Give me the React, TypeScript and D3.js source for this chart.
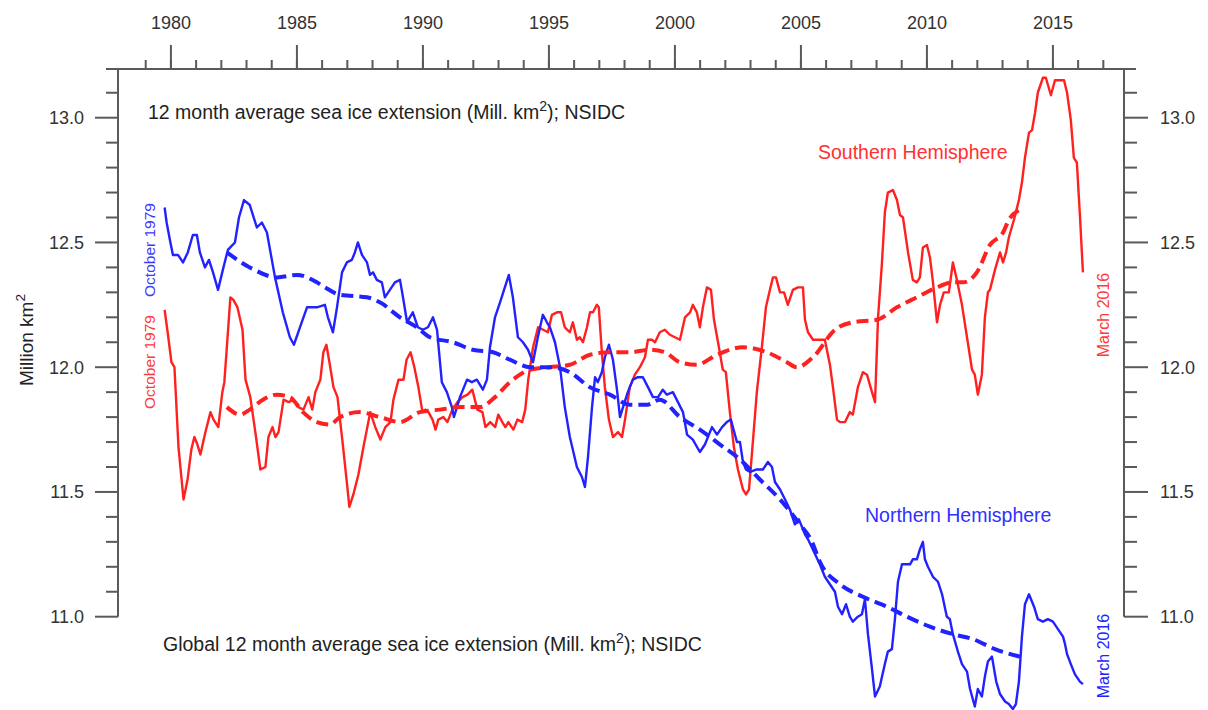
import React from 'react';
import * as d3 from 'd3';

const yearMajor = [1980, 1985, 1990, 1995, 2000, 2005, 2010, 2015];
const yearMinor = d3.range(1979, 2018);
const valueMajor = [11.0, 11.5, 12.0, 12.5, 13.0];
const valueMinor = [11.1, 11.2, 11.3, 11.4, 11.6, 11.7, 11.8, 11.9, 12.1, 12.2, 12.3, 12.4, 12.6, 12.7, 12.8, 12.9, 13.1];

// Northern Hemisphere, 12 month average (year, Mill. km2)
const nhAverage: [number, number][] = [
  [1979.75, 12.64], [1979.83, 12.58], [1979.96, 12.51], [1980.08, 12.45], [1980.28, 12.45], [1980.48, 12.42],
  [1980.67, 12.46], [1980.87, 12.53], [1981.03, 12.53], [1981.15, 12.46], [1981.35, 12.40], [1981.51, 12.43],
  [1981.67, 12.38], [1981.87, 12.31], [1982.06, 12.39], [1982.26, 12.47], [1982.54, 12.50], [1982.70, 12.60],
  [1982.90, 12.67], [1983.13, 12.65], [1983.41, 12.56], [1983.61, 12.58], [1983.81, 12.54], [1984.13, 12.36],
  [1984.44, 12.22], [1984.72, 12.12], [1984.88, 12.09], [1985.12, 12.16], [1985.40, 12.24], [1985.79, 12.24],
  [1986.11, 12.25], [1986.23, 12.20], [1986.43, 12.14], [1986.59, 12.24], [1986.79, 12.38], [1986.98, 12.42],
  [1987.18, 12.43], [1987.30, 12.46], [1987.42, 12.50], [1987.58, 12.45], [1987.78, 12.42], [1987.90, 12.37],
  [1988.02, 12.38], [1988.17, 12.35], [1988.37, 12.34], [1988.49, 12.28], [1988.69, 12.31], [1988.89, 12.34],
  [1989.09, 12.35], [1989.21, 12.28], [1989.37, 12.18], [1989.48, 12.20], [1989.60, 12.22], [1989.80, 12.16],
  [1990.00, 12.15], [1990.20, 12.16], [1990.40, 12.20], [1990.56, 12.15], [1990.75, 11.94], [1990.95, 11.90],
  [1991.15, 11.84], [1991.23, 11.80], [1991.47, 11.88], [1991.75, 11.95], [1991.94, 11.94], [1992.14, 11.95],
  [1992.38, 11.91], [1992.54, 11.95], [1992.66, 12.08], [1992.86, 12.20], [1993.06, 12.26], [1993.25, 12.32],
  [1993.41, 12.37], [1993.57, 12.28], [1993.77, 12.12], [1993.97, 12.10], [1994.17, 12.07], [1994.37, 12.02],
  [1994.56, 12.12], [1994.76, 12.21], [1994.92, 12.18], [1995.04, 12.16], [1995.24, 12.10], [1995.44, 12.00],
  [1995.63, 11.84], [1995.83, 11.72], [1996.11, 11.60], [1996.31, 11.56], [1996.43, 11.52], [1996.55, 11.64],
  [1996.71, 11.84], [1996.83, 11.96], [1996.94, 11.94], [1997.10, 11.98], [1997.22, 12.04], [1997.38, 12.09],
  [1997.54, 12.03], [1997.70, 11.91], [1997.82, 11.80], [1997.94, 11.84], [1998.13, 11.90], [1998.33, 11.95],
  [1998.53, 11.96], [1998.73, 11.96], [1998.93, 11.92], [1999.13, 11.88], [1999.33, 11.88], [1999.52, 11.91],
  [1999.68, 11.89], [1999.92, 11.90], [2000.12, 11.86], [2000.32, 11.82], [2000.48, 11.73], [2000.71, 11.71],
  [2000.99, 11.66], [2001.19, 11.69], [2001.47, 11.76], [2001.67, 11.73], [2001.87, 11.76], [2002.06, 11.78],
  [2002.22, 11.79], [2002.46, 11.70], [2002.58, 11.70], [2002.70, 11.62], [2002.82, 11.59], [2002.98, 11.58],
  [2003.25, 11.59], [2003.49, 11.59], [2003.69, 11.62], [2003.85, 11.60], [2003.97, 11.54], [2004.17, 11.51],
  [2004.37, 11.47], [2004.56, 11.43], [2004.76, 11.37], [2004.92, 11.39], [2005.04, 11.36], [2005.16, 11.33],
  [2005.28, 11.31], [2005.75, 11.21], [2005.95, 11.16], [2006.15, 11.13], [2006.35, 11.10], [2006.47, 11.04],
  [2006.63, 11.01], [2006.79, 11.05], [2006.94, 11.00], [2007.06, 10.98], [2007.26, 11.00], [2007.42, 11.01],
  [2007.54, 11.07], [2007.66, 10.93], [2007.82, 10.79], [2007.94, 10.68], [2008.13, 10.72], [2008.33, 10.81],
  [2008.45, 10.86], [2008.61, 10.87], [2008.73, 10.99], [2008.85, 11.14], [2009.01, 11.21], [2009.21, 11.21],
  [2009.33, 11.21], [2009.44, 11.23], [2009.60, 11.23], [2009.72, 11.27], [2009.84, 11.30], [2009.92, 11.23],
  [2010.04, 11.20], [2010.24, 11.16], [2010.44, 11.14], [2010.60, 11.09], [2010.79, 11.00], [2010.91, 10.99],
  [2011.03, 10.93], [2011.23, 10.86], [2011.39, 10.81], [2011.59, 10.78], [2011.71, 10.71], [2011.90, 10.64],
  [2012.02, 10.71], [2012.18, 10.68], [2012.30, 10.76], [2012.42, 10.82], [2012.58, 10.84], [2012.75, 10.74],
  [2012.90, 10.69], [2013.10, 10.66], [2013.25, 10.65], [2013.41, 10.63], [2013.53, 10.65], [2013.65, 10.74],
  [2013.77, 10.92], [2013.89, 11.05], [2014.05, 11.09], [2014.25, 11.04], [2014.40, 10.99], [2014.60, 10.98],
  [2014.80, 10.99], [2015.00, 10.98], [2015.20, 10.95], [2015.40, 10.92], [2015.48, 10.89], [2015.56, 10.85],
  [2015.71, 10.81], [2015.87, 10.77], [2016.07, 10.74], [2016.19, 10.73],
];

// Southern Hemisphere, 12 month average (year, Mill. km2)
const shAverage: [number, number][] = [
  [1979.75, 12.23], [1979.87, 12.14], [1980.02, 12.02], [1980.14, 12.00], [1980.30, 11.68], [1980.50, 11.47],
  [1980.66, 11.55], [1980.81, 11.67], [1980.93, 11.72], [1981.05, 11.69], [1981.17, 11.65], [1981.37, 11.74],
  [1981.57, 11.82], [1981.69, 11.79], [1981.88, 11.76], [1982.04, 11.90], [1982.12, 11.94], [1982.24, 12.11],
  [1982.36, 12.28], [1982.48, 12.27], [1982.64, 12.24], [1982.84, 12.15], [1982.96, 11.95], [1983.15, 11.88],
  [1983.35, 11.74], [1983.55, 11.59], [1983.75, 11.60], [1983.87, 11.72], [1984.03, 11.76], [1984.15, 11.72],
  [1984.27, 11.74], [1984.47, 11.87], [1984.67, 11.86], [1984.86, 11.87], [1985.06, 11.84], [1985.26, 11.83],
  [1985.46, 11.88], [1985.61, 11.83], [1985.73, 11.90], [1985.93, 11.95], [1986.05, 12.06], [1986.17, 12.09],
  [1986.29, 12.02], [1986.45, 11.92], [1986.61, 11.88], [1986.80, 11.71], [1987.00, 11.52], [1987.08, 11.44],
  [1987.24, 11.49], [1987.44, 11.57], [1987.64, 11.68], [1987.91, 11.82], [1988.11, 11.76], [1988.31, 11.71],
  [1988.51, 11.76], [1988.71, 11.78], [1988.83, 11.87], [1989.03, 11.95], [1989.23, 11.95], [1989.35, 12.03],
  [1989.51, 12.06], [1989.66, 12.00], [1989.82, 11.92], [1989.98, 11.82], [1990.10, 11.83], [1990.22, 11.82],
  [1990.38, 11.79], [1990.50, 11.75], [1990.61, 11.79], [1990.81, 11.80], [1990.97, 11.78], [1991.17, 11.83],
  [1991.37, 11.86], [1991.57, 11.88], [1991.77, 11.89], [1991.96, 11.91], [1992.16, 11.83], [1992.36, 11.82],
  [1992.48, 11.76], [1992.67, 11.78], [1992.87, 11.76], [1992.99, 11.81], [1993.15, 11.78], [1993.27, 11.76],
  [1993.39, 11.78], [1993.59, 11.75], [1993.75, 11.79], [1993.94, 11.78], [1994.06, 11.83], [1994.18, 11.95],
  [1994.37, 12.08], [1994.57, 12.16], [1994.77, 12.15], [1994.96, 12.14], [1995.12, 12.21], [1995.32, 12.22],
  [1995.48, 12.22], [1995.63, 12.16], [1995.83, 12.14], [1995.95, 12.18], [1996.11, 12.11], [1996.23, 12.12],
  [1996.35, 12.10], [1996.51, 12.16], [1996.63, 12.22], [1996.75, 12.22], [1996.90, 12.25], [1996.98, 12.24],
  [1997.10, 12.06], [1997.22, 11.92], [1997.38, 11.79], [1997.54, 11.72], [1997.74, 11.74], [1997.90, 11.72],
  [1998.02, 11.79], [1998.21, 11.92], [1998.41, 11.97], [1998.61, 12.00], [1998.81, 12.04], [1998.93, 12.11],
  [1999.09, 12.11], [1999.21, 12.10], [1999.40, 12.14], [1999.60, 12.15], [1999.80, 12.13], [2000.00, 12.12],
  [2000.20, 12.11], [2000.40, 12.20], [2000.60, 12.22], [2000.71, 12.25], [2000.87, 12.22], [2000.99, 12.16],
  [2001.11, 12.24], [2001.27, 12.32], [2001.43, 12.31], [2001.55, 12.19], [2001.71, 12.10], [2001.90, 11.99],
  [2002.02, 11.98], [2002.18, 11.82], [2002.34, 11.68], [2002.50, 11.59], [2002.70, 11.51], [2002.82, 11.49],
  [2002.94, 11.51], [2003.10, 11.71], [2003.25, 11.90], [2003.45, 12.08], [2003.61, 12.24], [2003.77, 12.31],
  [2003.89, 12.36], [2004.01, 12.36], [2004.17, 12.30], [2004.33, 12.30], [2004.48, 12.25], [2004.68, 12.31],
  [2004.88, 12.32], [2005.08, 12.32], [2005.16, 12.19], [2005.28, 12.14], [2005.48, 12.11], [2005.67, 12.11],
  [2005.95, 12.11], [2006.15, 12.01], [2006.27, 11.92], [2006.43, 11.79], [2006.55, 11.78], [2006.75, 11.78],
  [2006.94, 11.82], [2007.06, 11.81], [2007.26, 11.92], [2007.46, 11.98], [2007.62, 11.97], [2007.82, 11.90],
  [2007.94, 11.86], [2008.06, 12.20], [2008.21, 12.41], [2008.33, 12.62], [2008.45, 12.70], [2008.65, 12.71],
  [2008.81, 12.67], [2008.93, 12.61], [2009.05, 12.60], [2009.25, 12.46], [2009.44, 12.35], [2009.60, 12.34],
  [2009.72, 12.36], [2009.84, 12.48], [2010.00, 12.49], [2010.12, 12.44], [2010.24, 12.34], [2010.40, 12.18],
  [2010.52, 12.25], [2010.67, 12.30], [2010.87, 12.30], [2011.03, 12.42], [2011.19, 12.35], [2011.39, 12.25],
  [2011.59, 12.12], [2011.79, 11.99], [2011.90, 11.97], [2012.02, 11.89], [2012.18, 11.97], [2012.30, 12.20],
  [2012.42, 12.30], [2012.50, 12.31], [2012.70, 12.39], [2012.90, 12.46], [2013.02, 12.42], [2013.14, 12.46],
  [2013.25, 12.52], [2013.45, 12.59], [2013.65, 12.67], [2013.77, 12.74], [2013.89, 12.84], [2014.05, 12.94],
  [2014.17, 12.95], [2014.29, 13.02], [2014.40, 13.10], [2014.60, 13.16], [2014.72, 13.16], [2014.92, 13.09],
  [2015.08, 13.15], [2015.24, 13.15], [2015.44, 13.15], [2015.56, 13.10], [2015.71, 12.99], [2015.83, 12.84],
  [2015.95, 12.82], [2016.07, 12.61], [2016.19, 12.38],
];

// Smoothed trends (dashed)
const nhTrend: [number, number][] = [
  [1982.22, 12.46], [1983.13, 12.40], [1984.21, 12.36], [1985.00, 12.37], [1985.79, 12.34], [1986.11, 12.32],
  [1986.71, 12.29], [1987.78, 12.28], [1988.29, 12.26], [1989.09, 12.20], [1989.76, 12.16], [1990.28, 12.12],
  [1991.19, 12.10], [1991.98, 12.07], [1992.78, 12.06], [1993.45, 12.03], [1994.25, 12.00], [1995.04, 12.00],
  [1995.83, 11.98], [1996.63, 11.92], [1997.42, 11.89], [1998.21, 11.85], [1998.90, 11.85], [1999.40, 11.87],
  [2000.20, 11.80], [2000.99, 11.75], [2001.79, 11.69], [2002.58, 11.63], [2003.37, 11.55], [2004.17, 11.47],
  [2004.96, 11.37], [2005.44, 11.30], [2005.75, 11.22], [2006.55, 11.13], [2007.46, 11.08], [2008.41, 11.04],
  [2009.21, 11.00], [2010.12, 10.96], [2011.03, 10.93], [2011.83, 10.91], [2012.70, 10.87], [2013.69, 10.84],
];

const shTrend: [number, number][] = [
  [1982.22, 11.84], [1982.74, 11.81], [1983.13, 11.83], [1983.65, 11.87], [1984.21, 11.89], [1984.72, 11.88],
  [1985.24, 11.82], [1985.79, 11.78], [1986.31, 11.77], [1986.71, 11.80], [1987.50, 11.82], [1988.29, 11.80],
  [1989.09, 11.78], [1989.88, 11.82], [1990.67, 11.83], [1991.47, 11.84], [1992.26, 11.84], [1992.86, 11.88],
  [1993.45, 11.94], [1994.25, 11.99], [1995.04, 12.00], [1995.83, 12.01], [1996.63, 12.05], [1997.42, 12.06],
  [1998.21, 12.06], [1999.01, 12.07], [1999.60, 12.06], [2000.20, 12.02], [2000.87, 12.01], [2001.67, 12.05],
  [2002.70, 12.08], [2003.65, 12.06], [2004.44, 12.02], [2004.84, 12.00], [2005.48, 12.04], [2006.35, 12.15],
  [2007.06, 12.18], [2008.02, 12.19], [2008.81, 12.24], [2009.60, 12.28], [2010.40, 12.32], [2011.03, 12.34],
  [2011.43, 12.34], [2011.98, 12.38], [2012.50, 12.49], [2013.02, 12.54], [2013.25, 12.59], [2013.65, 12.63],
];

const RED = '#ff2020';
const BLUE = '#2222ff';
const AXIS = '#5a5a5a';
const TEXT = '#333333';
const FONT = 'Liberation Sans, Arial, sans-serif';

export default function App() {
  const W = 1208;
  const H = 710;
  const left = 118;
  const right = 1124;
  const topY = 69;

  const x = d3.scaleLinear().domain([1977.9, 2017.82]).range([left, right]);
  const y = d3.scaleLinear().domain([11.0, 13.0]).range([616.7, 117.7]);

  const solid = d3.line<[number, number]>().x(d => x(d[0])).y(d => y(d[1])).curve(d3.curveLinear);
  const smooth = d3.line<[number, number]>().x(d => x(d[0])).y(d => y(d[1])).curve(d3.curveMonotoneX);

  const yBottom = y(11.0);

  const sup = (base: string, rest: string) => (
    <>
      {base}
      <tspan dy={-8} fontSize="0.72em">2</tspan>
      <tspan dy={8}>{rest}</tspan>
    </>
  );

  return (
    <svg width={W} height={H} style={{ position: 'absolute', left: 0, top: 0, background: '#fff' }} fontFamily={FONT}>
      <rect x={0} y={0} width={W} height={H} fill="#fff" />

      {/* top axis */}
      <line x1={106} x2={1136} y1={topY} y2={topY} stroke={AXIS} strokeWidth={2} />
      {yearMinor.map(yr => (
        <line key={'ym' + yr} x1={x(yr)} x2={x(yr)} y1={topY} y2={topY - 9} stroke={AXIS} strokeWidth={2} />
      ))}
      {yearMajor.map(yr => (
        <g key={'yM' + yr}>
          <line x1={x(yr)} x2={x(yr)} y1={topY} y2={topY - 24} stroke={AXIS} strokeWidth={2} />
          <text x={x(yr)} y={29} textAnchor="middle" fontSize={18} fill={TEXT}>{yr}</text>
        </g>
      ))}

      {/* left & right axes */}
      {[left, right].map((ax, i) => (
        <g key={'ax' + i}>
          <line x1={ax} x2={ax} y1={topY} y2={yBottom} stroke={AXIS} strokeWidth={2} />
          {valueMinor.map(v => (
            <line key={'vm' + v} x1={ax} x2={i === 0 ? ax - 12 : ax + 13} y1={y(v)} y2={y(v)} stroke={AXIS} strokeWidth={2} />
          ))}
          {valueMajor.map(v => (
            <g key={'vM' + v}>
              <line x1={ax} x2={i === 0 ? ax - 23 : ax + 24} y1={y(v)} y2={y(v)} stroke={AXIS} strokeWidth={2} />
              <text x={i === 0 ? 84 : 1160} y={y(v)} dy="0.36em" textAnchor={i === 0 ? 'end' : 'start'} fontSize={18} fill={TEXT}>
                {v.toFixed(1)}
              </text>
            </g>
          ))}
        </g>
      ))}

      {/* y axis title */}
      <text transform="translate(33,340) rotate(-90)" textAnchor="middle" fontSize={19} fill="#222">
        {sup('Million km', '')}
      </text>

      {/* series */}
      <path d={solid(shAverage) || ''} fill="none" stroke={RED} strokeWidth={2.4} strokeLinejoin="round" />
      <path d={solid(nhAverage) || ''} fill="none" stroke={BLUE} strokeWidth={2.4} strokeLinejoin="round" />
      <path d={smooth(shTrend) || ''} fill="none" stroke={RED} strokeWidth={4} strokeDasharray="12 6" />
      <path d={smooth(nhTrend) || ''} fill="none" stroke={BLUE} strokeWidth={4} strokeDasharray="12 6" />

      {/* titles */}
      <text x={148} y={119} fontSize={19.5} fill="#222">
        {sup('12 month average sea ice extension (Mill. km', '); NSIDC')}
      </text>
      <text x={163} y={651} fontSize={19.5} fill="#222">
        {sup('Global 12 month average sea ice extension (Mill. km', '); NSIDC')}
      </text>
      <text x={818} y={159} fontSize={19.5} fill="#ff3030">Southern Hemisphere</text>
      <text x={865} y={522} fontSize={19.5} fill="#3030ff">Northern Hemisphere</text>

      {/* rotated date labels */}
      <text transform="translate(155,250) rotate(-90)" textAnchor="middle" fontSize={15.5} fill="#3a3aff">October 1979</text>
      <text transform="translate(155,362) rotate(-90)" textAnchor="middle" fontSize={15.5} fill="#ff3a3a">October 1979</text>
      <text transform="translate(1109,315) rotate(-90)" textAnchor="middle" fontSize={16} fill="#ff3a3a">March 2016</text>
      <text transform="translate(1109,656) rotate(-90)" textAnchor="middle" fontSize={16} fill={BLUE}>March 2016</text>
    </svg>
  );
}
